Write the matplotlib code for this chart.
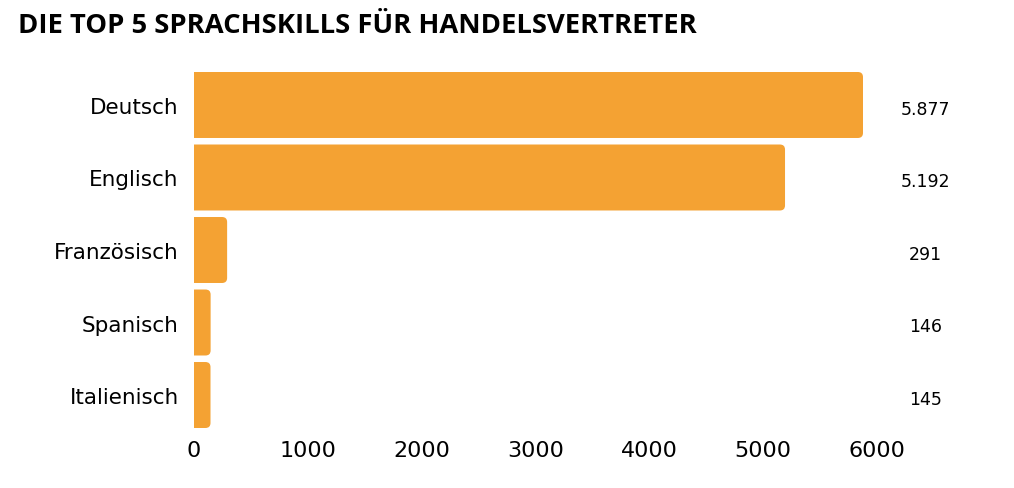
import matplotlib.pyplot as plt
from matplotlib.patches import FancyBboxPatch

sprachen = ['Deutsch', 'Englisch', 'Französisch', 'Spanisch', 'Italienisch']
anzahl = [5877, 5192, 291, 146, 145]
labels = ['5.877', '5.192', '291', '146', '145']

farbe = '#F4A233'

fig = plt.figure(figsize=(10.14, 4.89), dpi=100)
ax = fig.add_axes([194 / 1014, 60 / 489, 683 / 1014, 356 / 489])

ypos = list(range(len(sprachen)))
bars = ax.barh(ypos, anzahl, height=0.91, color=farbe)

# rounded right corners: replace each bar by a rounded box that starts left of 0
for b in bars:
    x, y = b.get_x(), b.get_y()
    w, h = b.get_width(), b.get_height()
    b.remove()
    r = 45
    p = FancyBboxPatch((x - r, y), w + r, h,
                       boxstyle='round,pad=0,rounding_size=%f' % r,
                       mutation_aspect=0.00155,
                       facecolor=farbe, edgecolor='none')
    ax.add_patch(p)

ax.set_xlim(0, 6000)
ax.set_ylim(len(sprachen) - 1 + 0.455, -0.455)
ax.set_yticks(ypos)
ax.set_yticklabels(sprachen, fontsize=15.5, family='DejaVu Sans')
ax.set_xticks([0, 1000, 2000, 3000, 4000, 5000, 6000])
ax.set_xticklabels(['0', '1000', '2000', '3000', '4000', '5000', '6000'],
                   fontsize=16, family='DejaVu Sans')
ax.tick_params(axis='both', length=0)
ax.tick_params(axis='y', pad=11)
ax.tick_params(axis='x', pad=9)
for s in ax.spines.values():
    s.set_visible(False)

for i, t in enumerate(labels):
    ax.text(6424, i + 0.05, t, ha='center', va='center', fontsize=12.5,
            family='DejaVu Sans', clip_on=False)

fig.text(18 / 1014, 1 - 26 / 489, 'DIE TOP 5 SPRACHSKILLS FÜR HANDELSVERTRETER',
         fontsize=19.7, fontweight='bold', family='Open Sans', va='center', ha='left')

fig.savefig('out.png', dpi=100, facecolor='white')
